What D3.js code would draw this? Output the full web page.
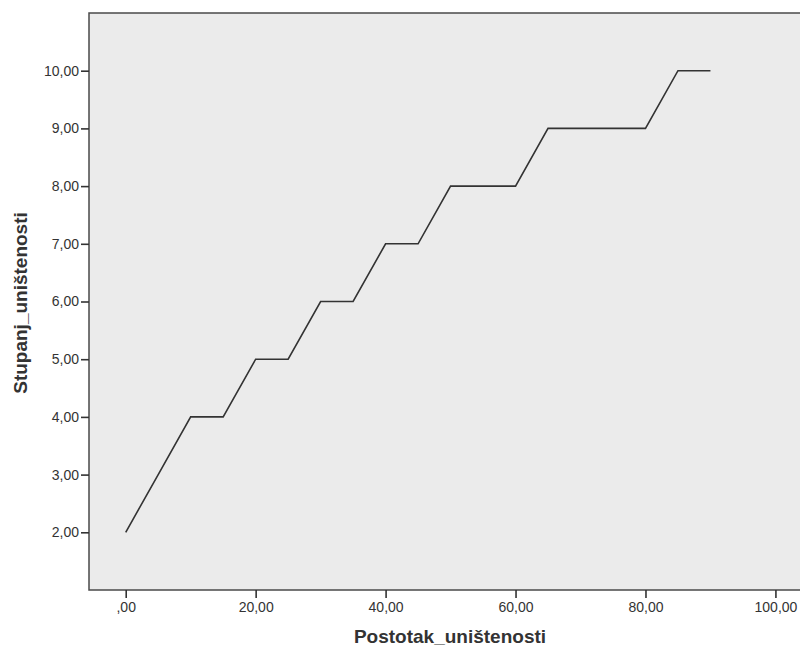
<!DOCTYPE html>
<html>
<head>
<meta charset="utf-8">
<script src="https://cdn.jsdelivr.net/npm/d3@7"></script>
<style>
  body { margin: 0; background: #fff; }
  text { font-family: "Liberation Sans", Arial, sans-serif; }
</style>
</head>
<body>
<div id="chart"></div>
<script>
// data
var postotak = [0, 5, 10, 15, 20, 25, 30, 35, 40, 45, 50, 55, 60, 65, 70, 75, 80, 85, 90];
var stupanj  = [2, 3, 4, 4, 5, 5, 6, 6, 7, 7, 8, 8, 8, 9, 9, 9, 9, 10, 10];
var xTicks = [0, 20, 40, 60, 80, 100];
var yTicks = [2, 3, 4, 5, 6, 7, 8, 9, 10];

var width = 800, height = 649;
var plotLeft = 89, plotTop = 13, plotRight = 830, plotBottom = 590;

var svg = d3.select("#chart").append("svg")
    .attr("width", width)
    .attr("height", height);

var x = d3.scaleLinear().domain([-5.65, 108.4]).range([plotLeft, plotRight]);
var y = d3.scaleLinear().domain([1.0, 11.0]).range([plotBottom, plotTop]);

// SPSS style labels: comma decimal, no leading zero
var fmt = function (d) {
    var s = d3.format(".2f")(d).replace(".", ",");
    return s.indexOf("0,") === 0 ? s.slice(1) : s;
};

// plot background
svg.append("rect")
    .attr("x", plotLeft).attr("y", plotTop)
    .attr("width", plotRight - plotLeft).attr("height", plotBottom - plotTop)
    .attr("fill", "#ebebeb")
    .attr("stroke", "#4a4a4a")
    .attr("stroke-width", 1.5);

var line = d3.line()
    .x((d, i) => x(postotak[i]))
    .y(d => y(d));

svg.append("path")
    .datum(stupanj)
    .attr("d", line)
    .attr("fill", "none")
    .attr("stroke", "#333")
    .attr("stroke-width", 1.6);

// x axis
var xAxis = svg.append("g")
    .attr("transform", "translate(0," + plotBottom + ")")
    .call(d3.axisBottom(x).tickValues(xTicks).tickFormat(fmt).tickSize(8).tickPadding(4));
xAxis.select(".domain").remove();
xAxis.selectAll("line").attr("stroke", "#333").attr("stroke-width", 1.6);
xAxis.selectAll("text").attr("font-size", 14).attr("fill", "#333")
    .style("font-family", "Liberation Sans, Arial, sans-serif");

// y axis
var yAxis = svg.append("g")
    .attr("transform", "translate(" + plotLeft + ",0)")
    .call(d3.axisLeft(y).tickValues(yTicks).tickFormat(fmt).tickSize(8).tickPadding(2));
yAxis.select(".domain").remove();
yAxis.selectAll("line").attr("stroke", "#333").attr("stroke-width", 1.6);
yAxis.selectAll("text").attr("font-size", 14).attr("fill", "#333")
    .style("font-family", "Liberation Sans, Arial, sans-serif");

// axis titles
svg.append("text")
    .attr("x", 450).attr("y", 643)
    .attr("text-anchor", "middle")
    .attr("font-size", 19).attr("font-weight", "bold").attr("fill", "#333")
    .text("Postotak_uništenosti");

svg.append("text")
    .attr("transform", "translate(27,303) rotate(-90)")
    .attr("text-anchor", "middle")
    .attr("font-size", 19).attr("font-weight", "bold").attr("fill", "#333")
    .text("Stupanj_uništenosti");
</script>
</body>
</html>
